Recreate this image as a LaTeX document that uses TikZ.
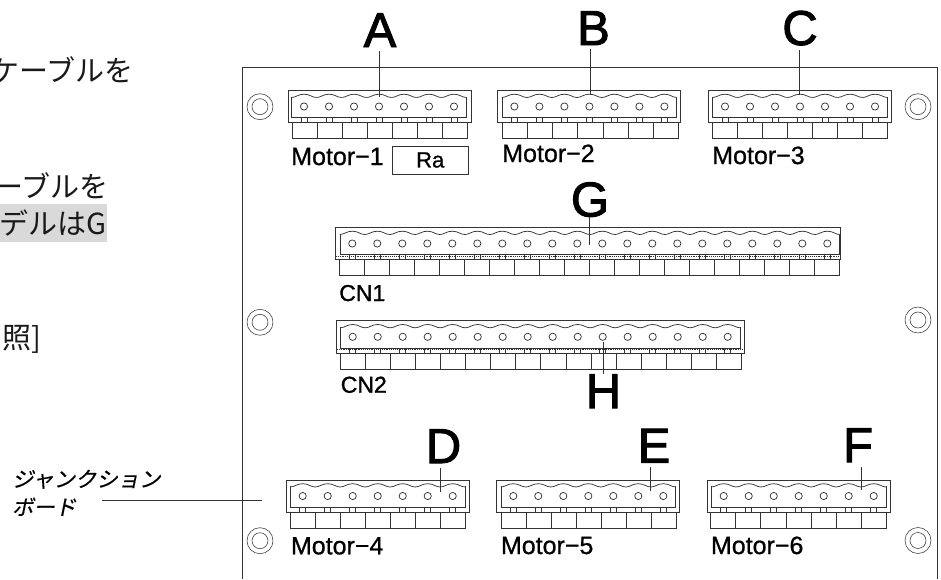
\documentclass[tikz,border=0pt]{standalone}
\usepackage{fontspec}
\setmainfont{Liberation Sans}
\newfontfamily\heavyfont[FakeBold=2]{Liberation Sans}
\newfontfamily\midfont[FakeBold=0.8]{Liberation Sans}
\newfontfamily\cnfont[FakeBold=1.4]{Liberation Sans}
\newfontfamily\jpfont{Noto Sans CJK JP}
\newfontfamily\jpslant[FakeSlant=0.2,FakeBold=0.4]{Noto Sans CJK JP}
\definecolor{ink}{gray}{0.2}
\definecolor{hl}{HTML}{D9D9D9}
\newcommand{\pxfont}[1]{\fontsize{#1}{#1}\selectfont}
\newcommand{\termblock}[7]{%
  % #1 outer left, #2 outer right, #3 top, #4 first hole x, #5 holes, #6 tab left, #7 tab right
  \pgfmathsetmacro{\blL}{#4-12.3}
  \pgfmathsetmacro{\blR}{#4+(#5-1)*25+12.3}
  \pgfmathsetmacro{\blTab}{(#7-#6)/#5}
  \draw[wire] (#1,#3) rectangle (#2,#3+32.3);
  \draw[wire] (\blL,#3+6) -- (\blL,#3+27.3) -- (\blR,#3+27.3) -- (\blR,#3+6);
  \draw[wire] (#6,#3+32.3) -- (#6,#3+48.3) -- (#7,#3+48.3) -- (#7,#3+32.3);
  \foreach \i in {1,...,#5}{
    \pgfmathsetmacro{\cx}{#4+(\i-1)*25}
    \pgfmathsetmacro{\tx}{#6+\i*\blTab}
    \draw[wire] (\cx,#3+16) circle[radius=3.6];
    \draw[wire] (\cx-12.5,#3+7) .. controls (\cx-8,#3+7) and (\cx-6,#3+3.7) .. (\cx,#3+3.7)
       .. controls (\cx+6,#3+3.7) and (\cx+8,#3+7) .. (\cx+12.5,#3+7);
    \draw[pin] (\cx-3,#3+27.3) -- (\cx-3,#3+32.3) (\cx+3,#3+27.3) -- (\cx+3,#3+32.3);
    \draw[wire] (\tx,#3+32.3) -- (\tx,#3+48.3);
  }
}
\tikzset{
  wire/.style={draw=ink,line width=0.55pt},
  pin/.style={draw=ink,line width=0.4pt},
  leader/.style={draw=ink,line width=0.6pt},
  letter/.style={inner sep=0pt,anchor=base,text=black,font=\heavyfont\pxfont{36.75}},
  motorlabel/.style={inner sep=0pt,anchor=base west,text=black,font=\midfont\pxfont{18.75}},
  cnlabel/.style={inner sep=0pt,anchor=base west,text=black,font=\cnfont\pxfont{17.25}},
  bodytext/.style={inner sep=0pt,anchor=base east,text=black!90,font=\jpfont\pxfont{21.75}},
  calloutjp/.style={inner sep=0pt,anchor=base west,text=black,font=\jpslant\pxfont{16}},
}
\begin{document}
\begin{tikzpicture}[x=0.75pt,y=-0.75pt]
\useasboundingbox (0,0) rectangle (941,579);
\begin{scope}
\clip (0,0) rectangle (941,579);
% clipped text at the left edge
\fill[hl] (0,204) rectangle (107,241.7);
\node[bodytext] (t1) at (134,81) {ケーブルを};
\node[bodytext] (t2) at (109,197) {ーブルを};
\node[bodytext] (t3) at (106.5,234) {デルはG};
\node[bodytext] (t4) at (42,348) {照]};
% board
\draw[wire] (242.3,579) -- (242.3,67) -- (937,67) -- (937,579);
% screw holes
\foreach \hx/\hy in {260/106.7,918/106.7,260/322.3,918/320,260/540.7,918/540.5}{
  \draw[pin] (\hx,\hy) circle[radius=13];
  \draw[pin] (\hx,\hy) circle[radius=8];
}
% terminal blocks
\termblock{288}{471}{90.5}{304}{7}{292}{467}
\termblock{497.7}{680.7}{90.5}{514.4}{7}{502.7}{678}
\termblock{708}{891}{90.5}{725}{7}{712}{887}
\termblock{335}{840}{227.5}{352.3}{20}{339.3}{839}
\termblock{336}{744}{320.8}{352.7}{16}{340.7}{741}
\termblock{286.7}{469}{480}{302.7}{7}{290}{465.7}
\termblock{496}{679.3}{480}{513.3}{7}{501}{676.7}
\termblock{707.3}{890}{480}{723.7}{7}{710.3}{886.7}
\draw[pin,densely dotted] (336,256) -- (839,256);
\draw[pin,densely dotted] (337,349.5) -- (743,349.5);
% labels
\node[motorlabel] (m1) at (291,165) {Motor−1};
\node[motorlabel] (m2) at (502,162) {Motor−2};
\node[motorlabel] (m3) at (712,164) {Motor−3};
\node[motorlabel] (m4) at (290.7,554.3) {Motor−4};
\node[motorlabel] (m5) at (500.7,554) {Motor−5};
\node[motorlabel] (m6) at (710.7,554) {Motor−6};
\node[cnlabel] (cn1) at (339,301) {CN1};
\node[cnlabel] (cn2) at (340.5,392.7) {CN2};
\node[draw=ink,line width=0.55pt,minimum width=75.5*0.75pt,minimum height=28*0.75pt,inner sep=0pt,anchor=center,font=\midfont\pxfont{16.5}] (ra) at (430.2,160) {Ra};
% letters
\node[letter] (A) at (380,47) {A};
\node[letter] (B) at (593.5,45) {B};
\node[letter] (C) at (800,45) {C};
\node[letter] (G) at (590,216.5) {G};
\node[letter] (H) at (603.5,408) {H};
\node[letter] (D) at (443.5,463) {D};
\node[letter] (E) at (654,462.5) {E};
\node[letter] (F) at (858,462) {F};
\coordinate (pA) at (379,97);
\coordinate (pB) at (590,95);
\coordinate (pC) at (799.3,95);
\coordinate (pG) at (589.5,245);
\coordinate (pH) at (603.3,342);
\coordinate (pD) at (440,492);
\coordinate (pE) at (650.3,491);
\coordinate (pF) at (861,490);
\draw[leader,shorten <=3pt] (A.south -| pA) -- (pA);
\draw[leader,shorten <=3pt] (B.south -| pB) -- (pB);
\draw[leader,shorten <=3pt] (C.south -| pC) -- (pC);
\draw[leader] (G.south -| pG) -- (pG);
\draw[leader] (H.north -| pH) -- (pH);
\draw[leader,shorten <=3.5pt] (D.south -| pD) -- (pD);
\draw[leader,shorten <=3.5pt] (E.south -| pE) -- (pE);
\draw[leader,shorten <=3.5pt] (F.south -| pF) -- (pF);
% junction board callout
\node[calloutjp] (jb1) at (12,487) {ジャンクション};
\node[calloutjp] (jb2) at (12,515) {ボード};
\coordinate (jbend) at (261.7,500.3);
\coordinate (jbstart) at (101.7,500.3);
\draw[leader] (jbstart) -- (jbend);
\end{scope}
\end{tikzpicture}
\end{document}
